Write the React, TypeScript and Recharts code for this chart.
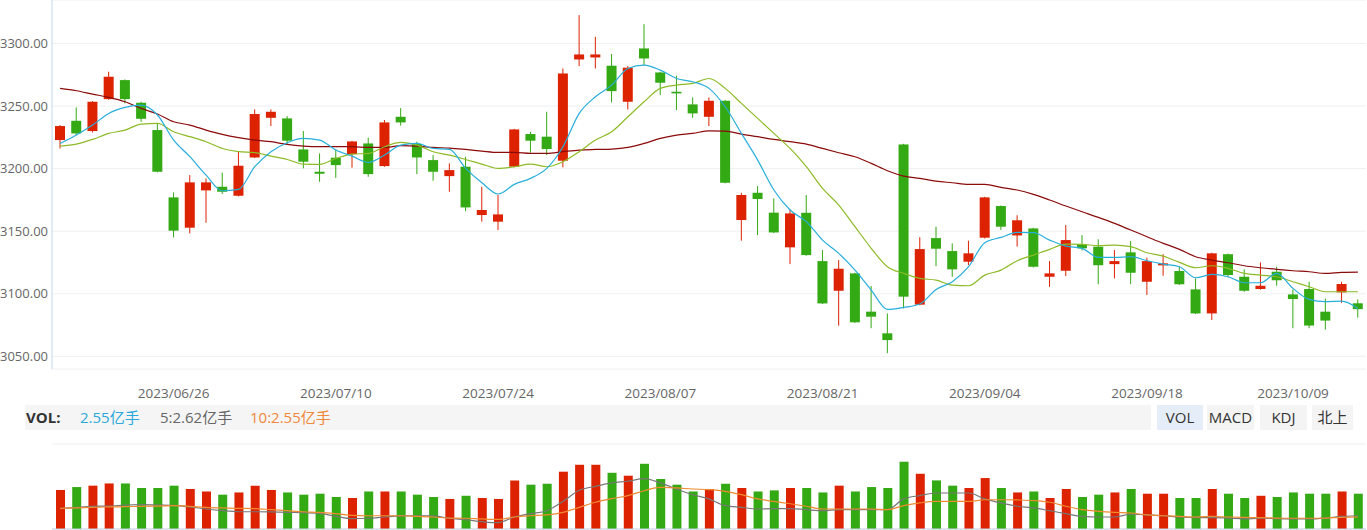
import React from 'react';
import {
  ComposedChart,
  Bar,
  Line,
  Cell,
  XAxis,
  YAxis,
  CartesianGrid,
} from 'recharts';

const DATES = [
  '2023/06/13', '2023/06/14', '2023/06/15', '2023/06/16', '2023/06/19', '2023/06/20', '2023/06/21', '2023/06/26', '2023/06/27', '2023/06/28',
  '2023/06/29', '2023/06/30', '2023/07/03', '2023/07/04', '2023/07/05', '2023/07/06', '2023/07/07', '2023/07/10', '2023/07/11', '2023/07/12',
  '2023/07/13', '2023/07/14', '2023/07/17', '2023/07/18', '2023/07/19', '2023/07/20', '2023/07/21', '2023/07/24', '2023/07/25', '2023/07/26',
  '2023/07/27', '2023/07/28', '2023/07/31', '2023/08/01', '2023/08/02', '2023/08/03', '2023/08/04', '2023/08/07', '2023/08/08', '2023/08/09',
  '2023/08/10', '2023/08/11', '2023/08/14', '2023/08/15', '2023/08/16', '2023/08/17', '2023/08/18', '2023/08/21', '2023/08/22', '2023/08/23',
  '2023/08/24', '2023/08/25', '2023/08/28', '2023/08/29', '2023/08/30', '2023/08/31', '2023/09/01', '2023/09/04', '2023/09/05', '2023/09/06',
  '2023/09/07', '2023/09/08', '2023/09/11', '2023/09/12', '2023/09/13', '2023/09/14', '2023/09/15', '2023/09/18', '2023/09/19', '2023/09/20',
  '2023/09/21', '2023/09/22', '2023/09/25', '2023/09/26', '2023/09/27', '2023/09/28', '2023/10/09', '2023/10/10', '2023/10/11', '2023/10/12',
  '2023/10/13',
];

const OPEN = [
  3222.8, 3238.2, 3230.0, 3255.5, 3270.7, 3252.6, 3230.8, 3177.0, 3152.8, 3182.6,
  3185.5, 3178.3, 3208.9, 3240.6, 3240.1, 3215.3, 3197.5, 3208.7, 3211.6, 3220.1,
  3202.0, 3241.4, 3219.6, 3206.8, 3194.0, 3201.5, 3162.9, 3157.6, 3201.5, 3227.6,
  3225.5, 3206.3, 3287.2, 3288.8, 3282.2, 3253.4, 3296.0, 3276.8, 3261.4, 3251.3,
  3241.4, 3254.2, 3158.9, 3180.7, 3164.8, 3137.1, 3164.7, 3126.1, 3102.4, 3116.3,
  3085.7, 3068.4, 3219.3, 3091.3, 3144.5, 3134.1, 3125.6, 3144.8, 3170.1, 3146.6,
  3152.2, 3113.6, 3118.4, 3139.5, 3137.6, 3123.7, 3133.1, 3109.6, 3122.7, 3118.2,
  3103.5, 3084.3, 3131.6, 3113.6, 3103.8, 3117.6, 3099.5, 3103.8, 3085.7, 3101.1,
  3092.4,
];

const CLOSE = [
  3234.0, 3228.1, 3253.4, 3273.4, 3255.5, 3239.8, 3197.5, 3150.4, 3189.0, 3189.0,
  3181.5, 3202.3, 3243.6, 3245.4, 3222.3, 3205.5, 3195.9, 3202.8, 3221.7, 3195.6,
  3236.9, 3236.9, 3208.9, 3197.5, 3198.8, 3169.0, 3166.9, 3163.4, 3231.3, 3222.3,
  3215.6, 3276.0, 3291.2, 3291.2, 3261.9, 3280.6, 3288.0, 3268.6, 3260.1, 3244.1,
  3254.2, 3188.7, 3178.9, 3175.7, 3149.0, 3164.2, 3130.9, 3092.3, 3120.0, 3077.2,
  3081.7, 3063.0, 3097.7, 3135.7, 3136.0, 3119.5, 3132.3, 3177.0, 3153.6, 3158.7,
  3121.6, 3116.3, 3142.9, 3136.3, 3122.8, 3126.1, 3116.8, 3126.1, 3124.3, 3107.6,
  3084.3, 3132.3, 3115.0, 3102.4, 3106.4, 3110.8, 3095.8, 3074.6, 3078.6, 3107.8,
  3087.7,
];

const HIGH = [
  3234.8, 3248.9, 3253.9, 3277.4, 3271.2, 3253.4, 3236.1, 3181.0, 3194.8, 3192.2,
  3196.7, 3213.5, 3247.3, 3247.3, 3242.0, 3230.0, 3212.1, 3215.3, 3222.2, 3224.7,
  3238.8, 3248.3, 3221.5, 3210.8, 3204.2, 3209.5, 3185.5, 3178.9, 3231.8, 3229.4,
  3245.4, 3280.0, 3322.6, 3305.3, 3291.5, 3281.9, 3315.4, 3277.3, 3274.2, 3256.9,
  3256.9, 3254.7, 3180.7, 3186.0, 3176.2, 3167.4, 3178.9, 3134.9, 3126.9, 3116.8,
  3106.2, 3084.3, 3219.8, 3145.2, 3153.6, 3140.3, 3142.4, 3177.5, 3170.6, 3162.7,
  3152.7, 3126.1, 3154.9, 3146.9, 3143.5, 3134.9, 3142.1, 3128.8, 3131.6, 3121.6,
  3112.3, 3132.8, 3132.1, 3119.5, 3125.1, 3121.6, 3103.5, 3109.6, 3096.2, 3109.6,
  3095.6,
];

const LOW = [
  3216.1, 3226.8, 3228.9, 3255.0, 3252.1, 3237.4, 3197.0, 3145.0, 3148.2, 3156.8,
  3179.7, 3177.8, 3208.4, 3234.0, 3218.8, 3200.2, 3189.5, 3192.6, 3200.7, 3193.5,
  3201.5, 3234.3, 3195.6, 3190.3, 3181.5, 3166.0, 3157.6, 3150.9, 3201.0, 3212.7,
  3210.8, 3201.0, 3281.9, 3280.0, 3252.9, 3247.3, 3282.7, 3258.7, 3246.8, 3240.6,
  3234.0, 3188.2, 3142.4, 3146.9, 3148.5, 3123.7, 3130.4, 3091.8, 3074.5, 3076.7,
  3072.5, 3052.5, 3088.3, 3090.8, 3122.1, 3113.6, 3122.9, 3144.2, 3150.9, 3137.7,
  3121.0, 3105.5, 3114.1, 3134.5, 3107.6, 3112.3, 3107.6, 3099.1, 3114.4, 3107.1,
  3083.8, 3079.0, 3113.1, 3101.6, 3103.3, 3106.4, 3072.5, 3072.5, 3071.4, 3092.7,
  3080.9,
];

const MA5 = [
  3220.1, 3226.8, 3234.8, 3244.1, 3248.9, 3250.7, 3242.8, 3222.8, 3209.5, 3194.8,
  3182.3, 3183.4, 3201.5, 3213.5, 3220.7, 3224.1, 3222.8, 3214.8, 3210.0, 3205.0,
  3210.8, 3218.8, 3220.1, 3216.1, 3215.4, 3200.2, 3188.7, 3179.7, 3187.4, 3192.2,
  3200.2, 3217.5, 3244.1, 3257.4, 3266.7, 3280.0, 3282.7, 3278.7, 3272.0, 3269.4,
  3264.1, 3249.4, 3228.1, 3206.8, 3182.9, 3166.9, 3157.6, 3142.9, 3132.3, 3118.9,
  3103.0, 3087.5, 3089.1, 3091.8, 3103.5, 3109.6, 3121.6, 3140.8, 3145.0, 3149.0,
  3148.8, 3142.9, 3138.1, 3136.3, 3129.1, 3129.1, 3129.6, 3126.4, 3123.7, 3121.6,
  3112.8, 3115.5, 3113.6, 3108.8, 3108.8, 3116.3, 3104.3, 3095.5, 3093.7, 3094.2,
  3088.3,
];

const MA10 = [
  3218.0, 3219.6, 3223.3, 3228.1, 3230.8, 3235.6, 3236.1, 3229.4, 3225.5, 3221.5,
  3216.1, 3213.5, 3212.7, 3210.0, 3207.3, 3203.6, 3203.4, 3208.1, 3211.6, 3212.1,
  3217.5, 3220.9, 3218.8, 3213.5, 3210.8, 3207.3, 3203.6, 3200.2, 3201.5, 3203.6,
  3201.5, 3205.5, 3213.5, 3222.8, 3229.4, 3241.4, 3253.4, 3264.1, 3266.7, 3268.1,
  3272.0, 3264.1, 3252.1, 3240.1, 3228.1, 3216.1, 3201.5, 3184.2, 3170.9, 3153.6,
  3136.3, 3121.6, 3116.3, 3112.3, 3110.9, 3106.9, 3106.4, 3114.9, 3118.9, 3126.4,
  3130.9, 3135.5, 3139.7, 3139.5, 3138.4, 3138.9, 3137.6, 3132.8, 3130.1, 3125.1,
  3120.8, 3122.4, 3120.3, 3116.3, 3114.9, 3113.6, 3109.6, 3105.6, 3101.6, 3101.6,
  3101.6,
];

const MA30 = [
  3264.1, 3262.2, 3259.5, 3256.9, 3253.4, 3248.1, 3243.6, 3237.4, 3234.8, 3230.8,
  3227.3, 3224.7, 3222.8, 3221.5, 3219.3, 3218.0, 3217.5, 3217.5, 3217.5, 3216.9,
  3216.9, 3218.3, 3218.0, 3216.9, 3216.4, 3215.3, 3214.0, 3212.9, 3212.9, 3212.1,
  3212.1, 3213.5, 3214.8, 3215.3, 3215.6, 3216.9, 3220.1, 3224.1, 3226.8, 3228.1,
  3230.2, 3230.0, 3227.6, 3225.5, 3223.3, 3221.5, 3219.6, 3216.1, 3212.7, 3209.5,
  3204.2, 3198.3, 3194.0, 3192.2, 3190.0, 3188.7, 3187.4, 3187.4, 3185.0, 3182.9,
  3179.4, 3174.9, 3170.1, 3165.5, 3161.0, 3156.2, 3150.9, 3145.6, 3140.3, 3135.5,
  3129.6, 3126.9, 3124.8, 3122.4, 3120.8, 3119.5, 3118.4, 3117.6, 3116.3, 3117.1,
  3117.3,
];

// 成交量（亿手）
const VOLUME = [
  2.82, 3.03, 3.13, 3.29, 3.29, 2.96, 2.96, 3.13, 2.89, 2.71,
  2.48, 2.64, 3.13, 2.82, 2.64, 2.48, 2.55, 2.31, 2.24, 2.71,
  2.71, 2.71, 2.48, 2.31, 2.17, 2.40, 2.24, 2.17, 3.51, 3.20,
  3.27, 4.14, 4.64, 4.64, 4.06, 3.85, 4.71, 3.61, 3.20, 2.71,
  2.89, 3.27, 2.96, 2.71, 2.79, 2.96, 2.96, 2.64, 3.13, 2.71,
  3.03, 2.96, 4.86, 3.99, 3.51, 3.13, 2.96, 3.68, 2.96, 2.64,
  2.71, 2.24, 2.89, 2.31, 2.48, 2.64, 2.89, 2.55, 2.55, 2.24,
  2.24, 2.89, 2.55, 2.24, 2.40, 2.31, 2.64, 2.55, 2.55, 2.71,
  2.55,
];

const VOL_MA5 = [
  2.96, 3.02, 3.07, 3.08, 3.13, 3.15, 3.13, 3.11, 3.04, 2.94,
  2.86, 2.81, 2.81, 2.80, 2.78, 2.77, 2.73, 2.59, 2.48, 2.50,
  2.56, 2.61, 2.62, 2.61, 2.50, 2.43, 2.34, 2.29, 2.56, 2.72,
  2.86, 3.30, 3.83, 4.02, 4.18, 4.26, 4.38, 4.18, 3.89, 3.62,
  3.42, 3.10, 3.02, 2.94, 2.96, 2.96, 2.91, 2.86, 2.91, 2.91,
  2.91, 2.91, 3.42, 3.58, 3.70, 3.70, 3.70, 3.42, 3.23, 3.07,
  2.99, 2.86, 2.72, 2.59, 2.56, 2.56, 2.69, 2.66, 2.62, 2.56,
  2.53, 2.53, 2.51, 2.47, 2.50, 2.48, 2.47, 2.47, 2.51, 2.59,
  2.62,
];

const VOL_MA10 = [
  2.97, 2.99, 3.02, 3.04, 3.05, 3.07, 3.08, 3.10, 3.07, 3.02,
  2.99, 2.97, 2.96, 2.91, 2.86, 2.81, 2.78, 2.72, 2.64, 2.62,
  2.62, 2.62, 2.59, 2.56, 2.51, 2.50, 2.47, 2.45, 2.56, 2.62,
  2.66, 2.78, 3.02, 3.26, 3.43, 3.58, 3.81, 3.97, 3.94, 3.89,
  3.86, 3.78, 3.62, 3.42, 3.30, 3.19, 3.07, 2.94, 2.94, 2.94,
  2.94, 2.91, 3.10, 3.23, 3.30, 3.30, 3.30, 3.38, 3.38, 3.37,
  3.34, 3.26, 3.07, 2.91, 2.83, 2.78, 2.75, 2.66, 2.62, 2.59,
  2.56, 2.59, 2.56, 2.54, 2.53, 2.51, 2.50, 2.50, 2.51, 2.54,
  2.56,
];

const PRICE_TICKS = [3050, 3100, 3150, 3200, 3250, 3300];
const DATE_TICKS = [
  '2023/06/26', '2023/07/10', '2023/07/24', '2023/08/07',
  '2023/08/21', '2023/09/04', '2023/09/18', '2023/10/09',
];
const VOL_TICKS = [0, 2.05, 4.09, 6.14];

const RED = '#dd2200';
const GREEN = '#33a913';
const FONT = '"Open Sans", "Noto Sans CJK SC", sans-serif';

const rows = DATES.map((date, i) => ({
  date,
  open: OPEN[i],
  close: CLOSE[i],
  high: HIGH[i],
  low: LOW[i],
  ma5: MA5[i],
  ma10: MA10[i],
  ma30: MA30[i],
  vol: VOLUME[i],
  volMa5: VOL_MA5[i],
  volMa10: VOL_MA10[i],
}));

function Candle(props: any) {
  const { x, y, width, height, payload } = props;
  const { open, close, high, low } = payload;
  const color = close >= open ? RED : GREEN;
  const top = Math.min(y, y + height);
  const h = Math.abs(height);
  const k = h / (high - low);
  const yOf = (v: number) => top + (high - v) * k;
  const cx = x + width / 2;
  const bodyTop = yOf(Math.max(open, close));
  const bodyH = Math.max(1, Math.abs(yOf(open) - yOf(close)));
  return (
    <g>
      <line x1={cx} x2={cx} y1={top} y2={top + h} stroke={color} strokeWidth={1} />
      <rect x={x} y={bodyTop} width={width} height={bodyH} fill={color} />
    </g>
  );
}

const btn = (left: number, width: number, active = false): React.CSSProperties => ({
  position: 'absolute',
  left,
  top: 405,
  width,
  height: 25,
  lineHeight: '25px',
  textAlign: 'center',
  background: active ? '#e4edf8' : '#f4f4f4',
  color: '#333',
  fontSize: 15,
});

export default function App() {
  return (
    <div style={{ position: 'absolute', left: 0, top: 0, width: 1367, height: 530, overflow: 'hidden', fontFamily: FONT, background: '#fff' }}>
      <div style={{ position: 'absolute', left: 0, top: 0 }}>
        <ComposedChart width={1367} height={404} data={rows} margin={{ top: 0, right: 1, left: 0, bottom: 0 }}>
          <CartesianGrid vertical={false} stroke="#eef0f3" />
          <XAxis
            dataKey="date"
            ticks={DATE_TICKS}
            interval={0}
            axisLine={false}
            tickLine={false}
            tickSize={0}
            tickMargin={19}
            height={35}
            tick={{ fill: '#666', fontSize: 13.5, fontFamily: FONT }}
          />
          <YAxis
            domain={[3039.9, 3334.7]}
            ticks={PRICE_TICKS}
            allowDataOverflow
            width={52}
            tickLine={false}
            tickSize={0}
            tickMargin={4}
            axisLine={{ stroke: '#c6d6ee' }}
            tickFormatter={(v) => Number(v).toFixed(2)}
            tick={{ fill: '#666', fontSize: 13, fontFamily: FONT }}
          />
          <Bar dataKey={(d: any) => [d.low, d.high]} barSize={10} shape={Candle} isAnimationActive={false} />
          <Line type="monotone" dataKey="ma30" stroke="#8b0a0a" strokeWidth={1.2} dot={false} activeDot={false} isAnimationActive={false} />
          <Line type="monotone" dataKey="ma10" stroke="#8dbb26" strokeWidth={1.2} dot={false} activeDot={false} isAnimationActive={false} />
          <Line type="monotone" dataKey="ma5" stroke="#27aedb" strokeWidth={1.2} dot={false} activeDot={false} isAnimationActive={false} />
        </ComposedChart>
      </div>

      <div style={{ position: 'absolute', left: 25, top: 405, width: 1126, height: 25, background: '#f5f5f5', fontSize: 15, lineHeight: '25px' }}>
        <span style={{ position: 'absolute', left: 1, fontWeight: 'bold', color: '#333' }}>VOL:</span>
        <span style={{ position: 'absolute', left: 55, color: '#2aa9db' }}>2.55亿手</span>
        <span style={{ position: 'absolute', left: 135, color: '#666' }}>5:2.62亿手</span>
        <span style={{ position: 'absolute', left: 225, color: '#f0883a' }}>10:2.55亿手</span>
      </div>
      <div style={btn(1157, 46, true)}>VOL</div>
      <div style={btn(1207, 47)}>MACD</div>
      <div style={btn(1260, 47)}>KDJ</div>
      <div style={btn(1312, 41)}>北上</div>

      <div style={{ position: 'absolute', left: 0, top: 440 }}>
        <ComposedChart width={1367} height={90} data={rows} margin={{ top: 4, right: 1, left: 0, bottom: 0 }}>
          <CartesianGrid vertical={false} stroke="#eef0f3" />
          <XAxis dataKey="date" tick={false} tickLine={false} height={1} axisLine={{ stroke: '#c8d3e6' }} />
          <YAxis domain={[0, 6.14]} ticks={VOL_TICKS} width={52} tick={false} tickLine={false} axisLine={false} />
          <YAxis yAxisId="ma" orientation="right" domain={[1.99, 6.03]} hide />
          <Bar dataKey="vol" barSize={9} isAnimationActive={false}>
            {rows.map((r, i) => (
              <Cell key={i} fill={r.close >= r.open ? RED : GREEN} />
            ))}
          </Bar>
          <Line yAxisId="ma" type="monotone" dataKey="volMa5" stroke="#777" strokeWidth={1.2} dot={false} activeDot={false} isAnimationActive={false} />
          <Line yAxisId="ma" type="monotone" dataKey="volMa10" stroke="#f08a30" strokeWidth={1.2} dot={false} activeDot={false} isAnimationActive={false} />
        </ComposedChart>
      </div>
    </div>
  );
}
